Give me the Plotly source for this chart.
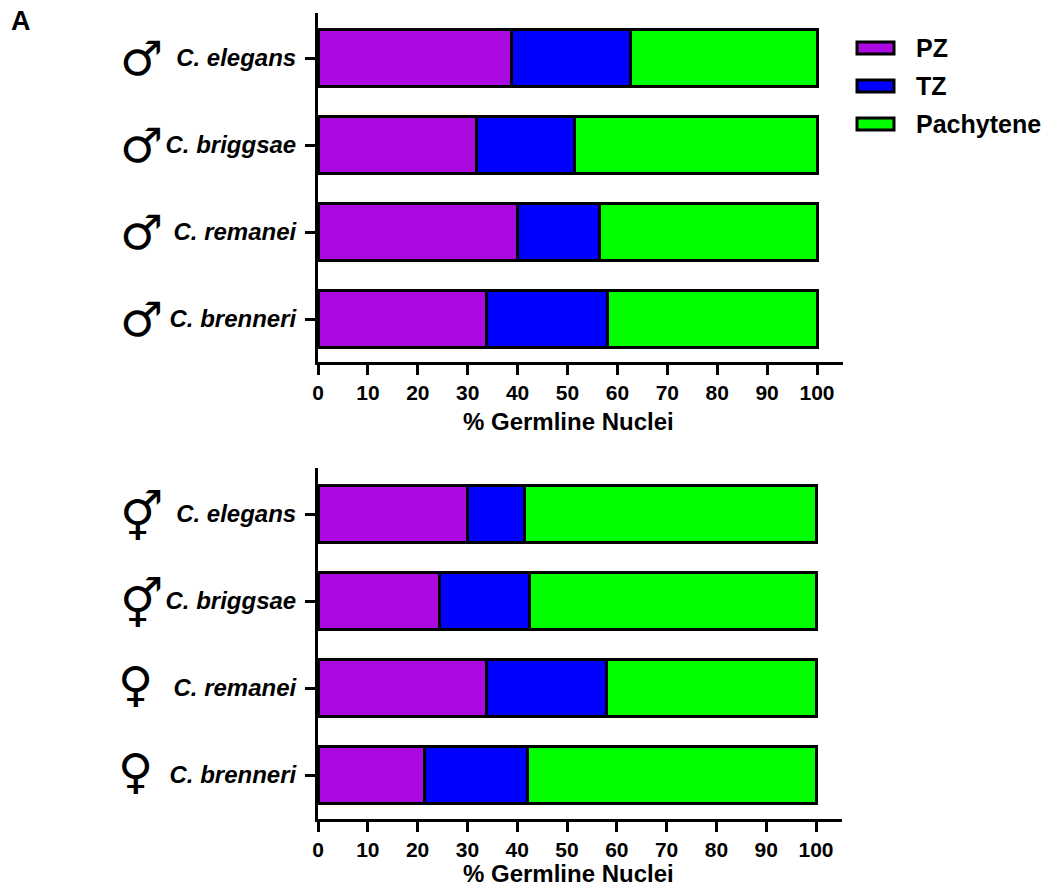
import plotly.graph_objects as go

species = ["C. elegans", "C. briggsae", "C. remanei", "C. brenneri"]
stages = ["PZ", "TZ", "Pachytene"]
colors = ["#AA0ADF", "#0000FF", "#00FF00"]

male_pz = [38.7, 31.7, 40.0, 33.7]
male_tz = [24.0, 19.8, 16.5, 24.4]
male_pach = [37.3, 48.5, 43.5, 41.9]

herm_pz = [30.1, 24.3, 33.9, 21.3]
herm_tz = [11.3, 18.1, 24.1, 20.7]
herm_pach = [58.6, 57.6, 42.0, 58.0]

male_symbols = ["♂", "♂", "♂", "♂"]
herm_symbols = ["⚥", "⚥", "♀", "♀"]
x_ticks = list(range(0, 101, 10))
x_title = "% Germline Nuclei"

W, H = 1046, 888
FONT = "Liberation Sans"

fig = go.Figure()
panels = [("x", "y", [male_pz, male_tz, male_pach]), ("x2", "y2", [herm_pz, herm_tz, herm_pach])]
positions = list(range(len(species)))
for xa, ya, vals in panels:
    for name, col, v in zip(stages, colors, vals):
        fig.add_bar(x=v, y=positions, orientation="h", name=name, xaxis=xa, yaxis=ya,
                    marker=dict(color=col, line=dict(color="black", width=3)),
                    showlegend=False, hoverinfo="x+name")


def xax(left, xmax, ppu, anchor):
    return dict(domain=[left / W, xmax / W], range=[0, (xmax - left) / ppu], anchor=anchor,
                tickmode="array", tickvals=x_ticks, ticktext=[f"<b>{t}</b>" for t in x_ticks],
                ticks="outside", ticklen=10, tickwidth=3, tickcolor="black",
                showline=True, linewidth=3, linecolor="black", showgrid=False, zeroline=False,
                tickfont=dict(family=FONT, size=21, color="black"))


def yax(top, bottom, c0, anchor):
    return dict(domain=[1 - bottom / H, 1 - top / H], range=[(bottom - c0) / 87, (top - c0) / 87], anchor=anchor,
                tickmode="array", tickvals=positions, ticktext=[f"<b><i>{s}</i></b>" for s in species],
                ticks="outside", ticklen=10, tickwidth=3, tickcolor="black", ticklabelstandoff=4,
                showline=True, linewidth=3, linecolor="black", showgrid=False, zeroline=False,
                tickfont=dict(family=FONT, size=24, color="black"))


def label(text, xp, yp, size, family=FONT, xanchor="center"):
    return dict(text=text, x=xp / W, y=1 - yp / H, xref="paper", yref="paper", showarrow=False,
                xanchor=xanchor, yanchor="middle", font=dict(family=family, size=size, color="black"))


ann = [label("<b>A</b>", 21, 21, 27)]
ann.append(label(f"<b>{x_title}</b>", 568, 421, 24))
ann.append(label(f"<b>{x_title}</b>", 568, 873, 24))
male_y = [58, 145, 232, 319]
herm_y = [514, 601, 688, 775]
symbol_x = {"♂": 141, "⚥": 141, "♀": 135}
symbol_dy = {"♂": 0, "⚥": 3, "♀": -4}
for s, yp in zip(male_symbols + herm_symbols, male_y + herm_y):
    ann.append(label(s, symbol_x[s], yp + symbol_dy[s], 48, "DejaVu Sans"))

shapes = []
legend_y = [48, 86, 124]
for name, col, yp in zip(stages, colors, legend_y):
    shapes.append(dict(type="rect", xref="paper", yref="paper", x0=857 / W, x1=894 / W,
                       y0=1 - (yp - 6) / H, y1=1 - (yp + 6) / H, fillcolor=col,
                       line=dict(color="black", width=3)))
    ann.append(label(f"<b>{name}</b>", 914, yp, 25, xanchor="left"))

fig.update_layout(width=W, height=H, margin=dict(l=0, r=0, t=0, b=0, autoexpand=False),
                  barmode="stack", bargap=0.345,
                  plot_bgcolor="white", paper_bgcolor="white", showlegend=False,
                  xaxis=xax(318, 843, 4.99, "y"), xaxis2=xax(318, 842, 4.98, "y2"),
                  yaxis=yax(13, 362, 58, "x"), yaxis2=yax(468, 819, 514, "x2"),
                  annotations=ann, shapes=shapes)
fig.write_html("out.html", config=dict(displayModeBar=False),
               post_script="document.body.style.margin='0';document.body.style.overflow='hidden';")
